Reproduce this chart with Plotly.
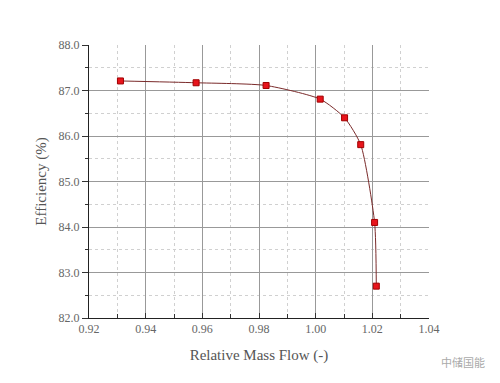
import plotly.graph_objects as go

mass_flow = [0.9311, 0.9578, 0.9825, 1.0016, 1.0102, 1.0159, 1.0208, 1.0214]
efficiency = [87.21, 87.17, 87.11, 86.81, 86.40, 85.81, 84.10, 82.70]

x_ticks = [0.92, 0.94, 0.96, 0.98, 1.00, 1.02, 1.04]
y_ticks = [82.0, 83.0, 84.0, 85.0, 86.0, 87.0, 88.0]

font_family = "Liberation Serif"

fig = go.Figure()
fig.add_trace(go.Scatter(
    x=mass_flow, y=efficiency, mode="lines+markers",
    line=dict(color="#7a2a2a", width=1, shape="spline", smoothing=0.6),
    marker=dict(symbol="square", size=6, color="#e8141c",
                line=dict(color="#a00000", width=1)),
    showlegend=False,
))

fig.update_layout(
    width=500, height=383,
    margin=dict(l=89, r=71, t=45, b=65),
    paper_bgcolor="white", plot_bgcolor="white",
    font=dict(family=font_family, color="#555555", size=11),
    xaxis=dict(
        range=[0.92, 1.04], tickvals=x_ticks,
        ticktext=[f"{v:.2f}" for v in x_ticks],
        showgrid=True, gridcolor="#999999", gridwidth=1,
        minor=dict(dtick=0.01, showgrid=True, gridcolor="#d0d0d0",
                   griddash="dot", ticks="inside", ticklen=4, tickcolor="#333"),
        ticks="inside", ticklen=5, tickcolor="#333",
        showline=True, linecolor="#222222", linewidth=1,
        zeroline=False,
        title=dict(text="Relative Mass Flow (-)",
                   font=dict(family=font_family, size=15, color="#555555"), standoff=14),
        tickfont=dict(family=font_family, size=12, color="#666666"),
    ),
    yaxis=dict(
        range=[82.0, 88.0], tickvals=y_ticks,
        ticktext=[f"{v:.1f}" for v in y_ticks],
        showgrid=True, gridcolor="#999999", gridwidth=1,
        minor=dict(dtick=0.5, showgrid=True, gridcolor="#d0d0d0",
                   griddash="dot", ticks="outside", ticklen=3, tickcolor="#333"),
        ticks="outside", ticklen=6, tickcolor="#333",
        showline=True, linecolor="#222222", linewidth=1,
        zeroline=False,
        title=dict(text="Efficiency (%)",
                   font=dict(family=font_family, size=15, color="#555555"), standoff=8),
        tickfont=dict(family=font_family, size=12, color="#666666"),
    ),
    annotations=[dict(
        text="中储国能", xref="paper", yref="paper", x=1.17, y=-0.16,
        xanchor="right", yanchor="middle", showarrow=False,
        font=dict(family="Noto Sans CJK SC", size=11, color="#aaaaaa"),
    )],
)

fig.write_html("out.html")
